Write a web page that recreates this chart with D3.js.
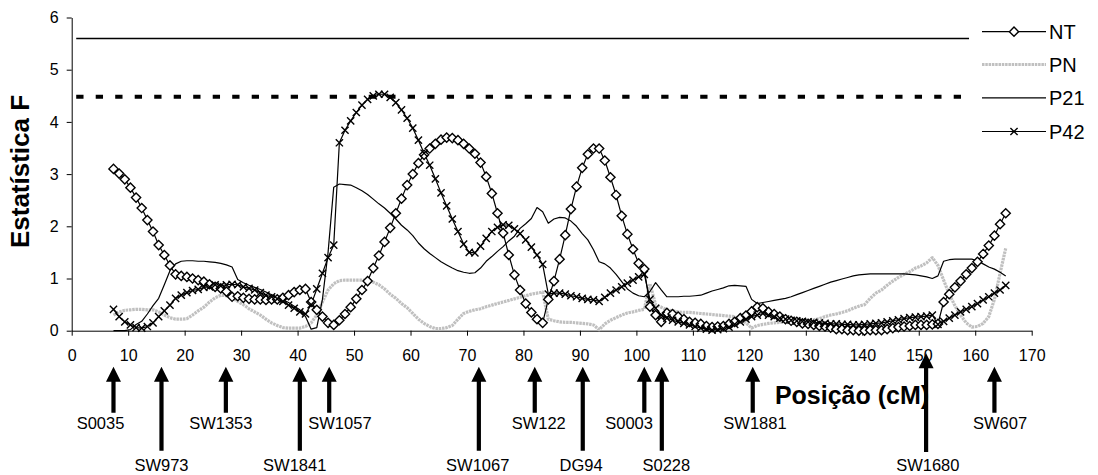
<!DOCTYPE html>
<html><head><meta charset="utf-8">
<script src="https://cdn.jsdelivr.net/npm/d3@7"></script>
<style>
body{margin:0;background:#fff}
svg{display:block}
text{font-family:Arial,"Liberation Sans",Helvetica,sans-serif;fill:#000}
</style>
</head><body>
<svg id="chart" width="1098" height="475"></svg>
<script>
// ---------- data ----------
// sampling grid: first position (cM) and step (cM) of each series value
const posStart = 7.4;
const posStep = 1;

const NT = [
3.10,3.01,2.90,2.74,2.55,2.35,2.12,1.90,1.64,1.45,
1.25,1.08,1.05,1.03,1.00,0.97,0.94,0.89,0.84,0.81,
0.75,0.65,0.66,0.63,0.61,0.60,0.60,0.59,0.60,0.60,
0.63,0.68,0.74,0.78,0.80,0.55,0.40,0.27,0.15,0.11,
0.20,0.32,0.45,0.61,0.78,0.95,1.20,1.44,1.70,1.97,
2.25,2.53,2.79,3.00,3.21,3.37,3.49,3.58,3.66,3.70,
3.69,3.65,3.58,3.49,3.39,3.22,2.95,2.63,2.25,1.87,
1.45,1.07,0.78,0.52,0.35,0.22,0.15,0.60,0.95,1.37,
1.83,2.33,2.76,3.12,3.38,3.49,3.49,3.26,2.94,2.60,
2.20,1.85,1.56,1.29,1.18,0.46,0.30,0.17,0.34,0.32,
0.27,0.22,0.17,0.15,0.13,0.09,0.07,0.08,0.09,0.13,
0.17,0.24,0.29,0.37,0.45,0.43,0.36,0.32,0.27,0.22,
0.19,0.17,0.14,0.13,0.11,0.09,0.08,0.06,0.03,0.03,
0.01,0.01,0.00,0.00,0.01,0.01,0.01,0.03,0.05,0.07,
0.08,0.09,0.11,0.11,0.11,0.12,0.13,0.55,0.70,0.83,
0.95,1.08,1.20,1.32,1.47,1.63,1.82,2.04,2.25];

const PN = [
0.30,0.36,0.39,0.40,0.41,0.41,0.40,0.40,0.36,0.30,
0.25,0.22,0.22,0.23,0.30,0.38,0.45,0.55,0.63,0.68,
0.67,0.63,0.56,0.50,0.42,0.36,0.30,0.22,0.15,0.10,
0.06,0.05,0.05,0.05,0.08,0.15,0.30,0.55,0.78,0.90,
0.96,0.97,0.97,0.97,0.97,0.96,0.93,0.88,0.80,0.70,
0.62,0.52,0.44,0.33,0.22,0.14,0.08,0.04,0.04,0.06,
0.10,0.22,0.33,0.37,0.40,0.42,0.46,0.49,0.52,0.55,
0.58,0.61,0.64,0.67,0.70,0.72,0.74,0.22,0.19,0.17,
0.16,0.16,0.15,0.14,0.13,0.11,0.02,0.13,0.20,0.25,
0.30,0.34,0.36,0.39,0.41,0.90,0.50,0.45,0.40,0.38,
0.36,0.35,0.35,0.34,0.33,0.32,0.31,0.30,0.29,0.28,
0.27,0.22,0.15,0.05,0.10,0.12,0.14,0.15,0.16,0.17,
0.18,0.19,0.20,0.20,0.21,0.23,0.27,0.30,0.32,0.35,
0.38,0.43,0.47,0.50,0.62,0.72,0.78,0.87,0.95,1.02,
1.08,1.13,1.20,1.24,1.30,1.40,1.25,0.97,0.70,0.48,
0.30,0.15,0.07,0.08,0.14,0.27,0.60,1.10,1.58];

const P21 = [
0.00,0.00,0.00,0.02,0.12,0.18,0.32,0.48,0.62,0.88,
1.15,1.28,1.33,1.34,1.34,1.33,1.33,1.32,1.31,1.29,
1.26,1.22,0.98,0.92,0.87,0.83,0.79,0.74,0.69,0.64,
0.59,0.54,0.47,0.40,0.27,0.03,0.06,0.60,1.50,2.75,
2.81,2.80,2.79,2.74,2.68,2.61,2.52,2.43,2.35,2.25,
2.14,2.02,1.93,1.82,1.68,1.57,1.48,1.40,1.32,1.26,
1.20,1.15,1.12,1.10,1.11,1.20,1.33,1.42,1.52,1.61,
1.72,1.81,1.96,2.05,2.15,2.36,2.28,2.06,2.14,2.17,
2.16,2.10,2.00,1.86,1.74,1.55,1.32,1.28,1.20,1.08,
0.94,0.80,0.72,0.67,0.65,0.75,0.92,0.78,0.65,0.65,
0.65,0.66,0.66,0.67,0.68,0.72,0.76,0.79,0.82,0.86,
0.87,0.86,0.85,0.60,0.52,0.54,0.56,0.58,0.60,0.62,
0.65,0.69,0.73,0.77,0.81,0.85,0.89,0.93,0.96,0.99,
1.02,1.05,1.07,1.08,1.09,1.09,1.09,1.09,1.09,1.09,
1.09,1.08,1.07,1.05,1.03,1.00,1.05,1.33,1.36,1.37,
1.37,1.37,1.37,1.34,1.28,1.22,1.18,1.12,1.05];

const P42 = [
0.41,0.27,0.17,0.11,0.06,0.05,0.08,0.15,0.27,0.38,
0.49,0.62,0.68,0.73,0.77,0.79,0.83,0.84,0.88,0.86,
0.88,0.89,0.88,0.84,0.81,0.78,0.73,0.68,0.65,0.61,
0.56,0.49,0.43,0.36,0.32,0.50,0.80,1.10,1.40,1.64,
3.60,3.84,4.02,4.18,4.32,4.43,4.50,4.53,4.53,4.47,
4.37,4.23,4.07,3.88,3.65,3.40,3.17,2.91,2.64,2.39,
2.14,1.90,1.66,1.50,1.49,1.62,1.77,1.90,1.98,2.03,
2.02,1.95,1.86,1.74,1.60,1.45,1.27,0.70,0.72,0.72,
0.70,0.67,0.65,0.62,0.60,0.59,0.56,0.64,0.72,0.78,
0.84,0.91,0.97,1.03,1.08,0.60,0.43,0.30,0.24,0.20,
0.17,0.14,0.11,0.08,0.05,0.03,0.01,0.02,0.04,0.07,
0.12,0.17,0.22,0.27,0.30,0.33,0.30,0.27,0.24,0.22,
0.20,0.19,0.18,0.17,0.16,0.15,0.14,0.13,0.13,0.12,
0.12,0.11,0.11,0.12,0.13,0.14,0.15,0.17,0.19,0.21,
0.23,0.25,0.26,0.27,0.28,0.30,0.12,0.18,0.24,0.30,
0.36,0.41,0.46,0.52,0.59,0.65,0.72,0.78,0.87];

const seriesNames = ["NT","PN","P21","P42"];

// significance thresholds (F value) and their extent in cM
const thresholdValues = [5.6, 4.48];
const thresholdFrom = 0.8;
const thresholdTo = 158.9;

// axis ticks
const xTicks = [0,10,20,30,40,50,60,70,80,90,100,110,120,130,140,150,160,170];
const yTicks = [0,1,2,3,4,5,6];

// microsatellite markers: name, map position (cM), label position (cM), row
const markerNames = ["S0035","SW973","SW1353","SW1841","SW1057","SW1067","SW122","DG94","S0003","S0228","SW1881","SW1680","SW607"];
const markerPos   = [7.4,15.9,27.3,40.4,45.6,72.1,82.0,90.5,101.4,104.5,120.6,151.3,163.4];
const markerLabel = [5.1,15.9,26.4,39.5,47.5,71.9,82.7,90.2,98.7,105.3,121.0,151.6,164.4];
const markerRow   = [0,1,0,1,0,1,0,1,0,1,0,1,0];

// ---------- drawing ----------
const svg = d3.select("#chart");
const x = d3.scaleLinear().domain([0,170]).range([71.7,1031.7]);
const y = d3.scaleLinear().domain([0,6]).range([330.7,17.5]);
const pos = i => posStart + i*posStep;

// thresholds
const thrStyle = [{w:1.5,dash:null},{w:4,dash:"7.3,12.2"}];
thresholdValues.forEach((v,k)=>{
  svg.append("line")
    .attr("x1",x(thresholdFrom)).attr("x2",x(thresholdTo))
    .attr("y1",y(v)).attr("y2",y(v))
    .attr("stroke","#000").attr("stroke-width",thrStyle[k].w)
    .attr("stroke-dasharray",thrStyle[k].dash);
});

// axes
const yAxis = svg.append("g").attr("transform",`translate(${x(0)},0)`)
  .call(d3.axisLeft(y).tickValues(yTicks).tickSize(5).tickSizeOuter(0).tickPadding(8).tickFormat(d3.format("d")));
const xAxis = svg.append("g").attr("transform",`translate(0,${y(0)})`)
  .call(d3.axisBottom(x).tickValues(xTicks).tickSize(5).tickSizeOuter(0).tickPadding(13.5).tickFormat(d3.format("d")));
[yAxis,xAxis].forEach(g=>{
  g.selectAll("path,line").attr("stroke","#000").attr("stroke-width",1);
  g.selectAll("text").attr("font-size",16).attr("font-family","Arial, 'Liberation Sans', sans-serif").attr("fill","#000");
});

// series
const lineGen = d3.line().x((d,i)=>x(pos(i))).y(d=>y(d));
const styles = {
  NT:  {stroke:"#000", width:1.2, marker:"diamond"},
  PN:  {stroke:"#c0c0c0", width:3.2, marker:null, dash:"2.5,0.8"},
  P21: {stroke:"#000", width:1.2, marker:null},
  P42: {stroke:"#000", width:1.2, marker:"cross"}
};
const data = {NT, PN, P21, P42};
const diamond = "M0,-4.6L4.6,0L0,4.6L-4.6,0Z";
const cross = "M-3.6,-3.6L3.6,3.6M-3.6,3.6L3.6,-3.6";

const drawOrder = ["PN","P21","NT","P42"];
drawOrder.forEach(name=>{
  const s = styles[name];
  svg.append("path").datum(data[name])
    .attr("d",lineGen).attr("fill","none")
    .attr("stroke",s.stroke).attr("stroke-width",s.width)
    .attr("stroke-dasharray",s.dash||null).attr("stroke-linejoin","round");
});
["NT","P42"].forEach(name=>{
  const s = styles[name];
  svg.append("g").selectAll("path").data(data[name]).join("path")
    .attr("transform",(d,i)=>`translate(${x(pos(i))},${y(d)})`)
    .attr("d", s.marker==="diamond"?diamond:cross)
    .attr("fill", s.marker==="diamond"?"#fff":"none")
    .attr("stroke","#000").attr("stroke-width",1.4);
});

// legend
const legY = [31.7,64.5,97.8,131.5];
const lg = svg.append("g");
seriesNames.forEach((name,k)=>{
  const s = styles[name];
  const g = lg.append("g").attr("transform",`translate(0,${legY[k]})`);
  g.append("line").attr("x1",982).attr("x2",1046).attr("y1",0).attr("y2",0)
    .attr("stroke",s.stroke).attr("stroke-width",s.width).attr("stroke-dasharray",s.dash||null);
  if(s.marker){
    g.append("path").attr("transform","translate(1014,0)")
      .attr("d", s.marker==="diamond"?diamond:cross)
      .attr("fill", s.marker==="diamond"?"#fff":"none")
      .attr("stroke","#000").attr("stroke-width",1.4);
  }
  g.append("text").attr("x",1049).attr("y",0).attr("dy","0.36em")
    .attr("font-size",20).text(name);
});

// axis titles
svg.append("text").attr("x",852).attr("y",403.5).attr("text-anchor","middle")
  .attr("font-size",25).attr("font-weight","bold").text("Posição (cM)");
svg.append("text").attr("transform","translate(29,171.5) rotate(-90)").attr("text-anchor","middle")
  .attr("font-size",26).attr("font-weight","bold").text("Estatística F");

// marker arrows
const arrowTip = 366.7, arrowTipTall = 353.3;
const rowBottom = [412.7, 450.7];
const rowText = [429, 470.5];
const ag = svg.append("g");
markerNames.forEach((name,k)=>{
  const cx = x(markerPos[k]);
  const tip = name==="SW1680" ? arrowTipTall : arrowTip;
  const bottom = name==="SW1680" ? 452 : rowBottom[markerRow[k]];
  const hw = 7.5, sw = 2.1, hh = 15;
  ag.append("path")
    .attr("d",`M${cx},${tip}L${cx+hw},${tip+hh}L${cx+sw},${tip+hh}L${cx+sw},${bottom}L${cx-sw},${bottom}L${cx-sw},${tip+hh}L${cx-hw},${tip+hh}Z`)
    .attr("fill","#000");
  ag.append("text").attr("x",x(markerLabel[k])).attr("y",rowText[markerRow[k]])
    .attr("text-anchor","middle").attr("font-size",16.5).text(name);
});
</script>
</body></html>
